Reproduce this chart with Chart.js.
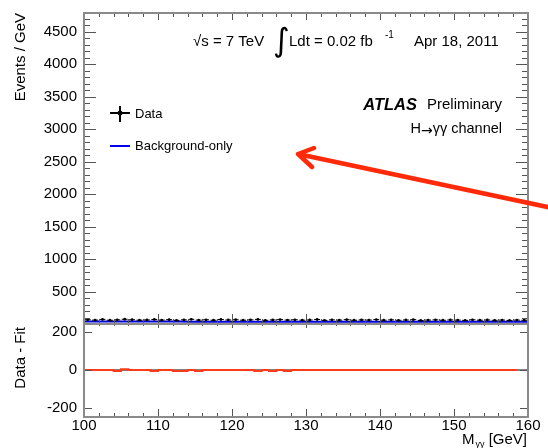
<!DOCTYPE html>
<html><head><meta charset="utf-8">
<script src="https://cdn.jsdelivr.net/npm/chart.js@4/dist/chart.umd.min.js"></script>
<style>
html,body{margin:0;padding:0;background:#fff;}
#wrap{position:relative;width:548px;height:448px;overflow:hidden;background:#fff;}
#c1{position:absolute;left:0;top:0;}
#c2{position:absolute;left:0;top:304px;}
</style></head><body>
<div id="wrap"><canvas id="c1" width="548" height="340" style="width:548px;height:340px"></canvas><canvas id="c2" width="548" height="144" style="width:548px;height:144px"></canvas></div>
<script>
// ---- data ----
const massBins = [100.5,101.5,102.5,103.5,104.5,105.5,106.5,107.5,108.5,109.5,
  110.5,111.5,112.5,113.5,114.5,115.5,116.5,117.5,118.5,119.5,
  120.5,121.5,122.5,123.5,124.5,125.5,126.5,127.5,128.5,129.5,
  130.5,131.5,132.5,133.5,134.5,135.5,136.5,137.5,138.5,139.5,
  140.5,141.5,142.5,143.5,144.5,145.5,146.5,147.5,148.5,149.5,
  150.5,151.5,152.5,153.5,154.5,155.5,156.5,157.5,158.5,159.5];
const dataEvents = [66,60,71,58,64,73,66,59,63,70,
  61,67,56,64,72,60,65,58,69,62,
  66,59,64,71,57,63,68,61,65,59,
  62,69,56,64,60,67,58,63,61,68,
  59,64,57,62,67,55,61,64,58,63,
  60,56,65,59,62,57,61,55,60,58];
const bkgMass = [100,105,110,115,120,125,130,135,140,145,150,155,160];
const bkgEvents = [38,37.4,36.9,36.4,35.9,35.5,35.1,34.7,34.3,34,33.7,33.4,33.1];
const resMass = [100,101,102,103,104,105,106,107,108,109,110,111,112,113,114,115,116,117,118,119,
  120,121,122,123,124,125,126,127,128,129,130,131,132,133,134,135,136,137,138,139,
  140,141,142,143,144,145,146,147,148,149,150,151,152,153,154,155,156,157,158,158.5];
const resValues = [0,0,0,0,0,-5,4,0,0,0,-5,0,0,-5,-5,0,-5,0,0,0,
  0,0,0,0,-5,0,-5,0,-5,0,0,0,0,0,0,0,0,0,0,0,
  0,0,0,0,0,0,0,0,0,0,0,0,0,0,0,0,0,0,0,0];
const upperYTicks = [500,1000,1500,2000,2500,3000,3500,4000,4500];
const lowerYTicks = [-200,0,200];
const xTickLabels = [100,110,120,130,140,150,160];

const FONT = '"Liberation Sans", Arial, sans-serif';
const FRAME = '#8a8a8a';
const TICKC = '#555';

function buildTicks(min, max, step){ const r=[]; for(let v=Math.ceil(min/step)*step; v<=max+1e-9; v+=step) r.push(v); return r; }

function drawFrameTicks(chart, spec){
  const {ctx, chartArea:a} = chart;
  const sx = chart.scales.x, sy = chart.scales.y;
  ctx.save();
  ctx.strokeStyle = TICKC; ctx.lineWidth = 1;
  ctx.beginPath();
  for (const t of spec.y){
    const p = Math.round(sy.getPixelForValue(t.v))+0.5;
    if (p < a.top || p > a.bottom) continue;
    ctx.moveTo(a.left, p); ctx.lineTo(a.left+t.len, p);
    ctx.moveTo(a.right, p); ctx.lineTo(a.right-t.len, p);
  }
  for (const t of spec.xb){
    const p = Math.round(sx.getPixelForValue(t.v))+0.5;
    ctx.moveTo(p, a.bottom); ctx.lineTo(p, a.bottom-t.len);
  }
  for (const t of spec.xt){
    const p = Math.round(sx.getPixelForValue(t.v))+0.5;
    ctx.moveTo(p, a.top); ctx.lineTo(p, a.top+t.len);
  }
  ctx.stroke();
  ctx.strokeStyle = FRAME; ctx.lineWidth = 2;
  ctx.strokeRect(a.left, a.top, a.right-a.left, a.bottom-a.top);
  ctx.restore();
}

function xSpec(majLen, minLen){
  return buildTicks(100,160,2).map(v => ({v, len: (v%10===0)? majLen : minLen}));
}

const upperPlugin = {
  id:'upper',
  afterDatasetsDraw(chart){
    const {ctx} = chart;
    const sx = chart.scales.x, sy = chart.scales.y;
    // error bars
    ctx.save(); ctx.strokeStyle='#000'; ctx.lineWidth=1; ctx.beginPath();
    dataEvents.forEach((n,i)=>{
      const x0 = sx.getPixelForValue(massBins[i]-0.4), x1 = sx.getPixelForValue(massBins[i]+0.4);
      const y = sy.getPixelForValue(n);
      ctx.moveTo(x0, y); ctx.lineTo(x1, y);
      const e = Math.sqrt(n);
      const xc = sx.getPixelForValue(massBins[i]);
      ctx.moveTo(xc, sy.getPixelForValue(n+e)); ctx.lineTo(xc, sy.getPixelForValue(n-e));
    });
    ctx.stroke(); ctx.restore();
    const yspec = buildTicks(0,4790,100).map(v=>({v, len:(v%500===0)?12:6}));
    drawFrameTicks(chart, {y:yspec, xb:xSpec(10,5), xt:xSpec(7,4)});
    ctx.save();
    ctx.fillStyle='#000';
    // y tick labels
    ctx.textBaseline='middle'; ctx.textAlign='right'; ctx.font='15px '+FONT;
    upperYTicks.forEach(v => ctx.fillText(String(v), 77, sy.getPixelForValue(v)));
    // texts
    ctx.textAlign='left';
    ctx.fillText('\u221As = 7 TeV', 193, 42);
    ctx.font = '32px "DejaVu Sans"';
    ctx.fillText('\u222B', 273, 43);
    ctx.font = '15px '+FONT;
    ctx.fillText('Ldt = 0.02 fb', 289, 42);
    ctx.font = '10px '+FONT;
    ctx.fillText('-1', 385, 35);
    ctx.font = '15px '+FONT;
    ctx.fillText('Apr 18, 2011', 414, 42);
    // ATLAS Preliminary
    ctx.textAlign='right';
    ctx.fillText('Preliminary', 502, 105);
    const wp = ctx.measureText('Preliminary').width;
    ctx.font = 'italic bold 16.5px '+FONT;
    ctx.fillText('ATLAS', 502 - wp - 10, 105);
    // H -> gamma gamma channel
    let hx = 502;
    ctx.font = '14.5px '+FONT;
    ctx.fillText('\u03B3\u03B3 channel', hx, 129);
    hx -= ctx.measureText('\u03B3\u03B3 channel').width;
    ctx.font = '14px "DejaVu Sans"';
    ctx.fillText('\u2192', hx, 131);
    hx -= ctx.measureText('\u2192').width;
    ctx.font = '14.5px '+FONT;
    ctx.fillText('H', hx, 129);
    // legend
    ctx.textAlign='left';
    ctx.font = '13px '+FONT;
    ctx.fillText('Data', 135, 114);
    ctx.fillText('Background-only', 135, 146);
    ctx.strokeStyle='#000'; ctx.lineWidth=2;
    ctx.beginPath(); ctx.moveTo(110,113); ctx.lineTo(130,113); ctx.moveTo(120,106); ctx.lineTo(120,122); ctx.stroke();
    ctx.beginPath(); ctx.arc(120,113,2.5,0,Math.PI*2); ctx.fillStyle='#000'; ctx.fill();
    ctx.strokeStyle='#0000ee'; ctx.lineWidth=2;
    ctx.beginPath(); ctx.moveTo(110,146); ctx.lineTo(130,146); ctx.stroke();
    // y title
    ctx.fillStyle='#000';
    ctx.translate(21,13); ctx.rotate(-Math.PI/2);
    ctx.textAlign='right'; ctx.font='15px '+FONT;
    ctx.fillText('Events / GeV', 0, 0);
    ctx.restore();
  },
  afterDraw(chart){
    const ctx = chart.ctx;
    ctx.save();
    ctx.strokeStyle='#ff2a0a'; ctx.lineWidth=4.5; ctx.lineCap='round'; ctx.lineJoin='round';
    ctx.beginPath();
    ctx.moveTo(552, 208); ctx.lineTo(298, 154);
    ctx.moveTo(314, 148); ctx.lineTo(298, 154); ctx.lineTo(312, 167);
    ctx.stroke();
    ctx.restore();
  }
};

const lowerPlugin = {
  id:'lower',
  afterDatasetsDraw(chart){
    const {ctx} = chart;
    drawFrameTicks(chart, {y:lowerYTicks.map(v=>({v,len:8})), xb:xSpec(8,4), xt:xSpec(4,2)});
    ctx.save();
    ctx.fillStyle='#000'; ctx.textBaseline='middle';
    ctx.translate(21, 23); ctx.rotate(-Math.PI/2);
    ctx.textAlign='right'; ctx.font='15px '+FONT;
    ctx.fillText('Data - Fit', 0, 0);
    ctx.restore();
    // x title
    ctx.save();
    ctx.fillStyle='#000'; ctx.textBaseline='alphabetic'; ctx.textAlign='right';
    ctx.font='15px '+FONT;
    let x = 527;
    ctx.fillText(' [GeV]', x, 140);
    x -= ctx.measureText(' [GeV]').width;
    ctx.font='9px '+FONT;
    ctx.fillText('\u03B3\u03B3', x, 143);
    x -= ctx.measureText('\u03B3\u03B3').width + 1;
    ctx.font='15px '+FONT;
    ctx.fillText('M', x, 140);
    ctx.restore();
  }
};

const tickFont = {family: FONT, size: 15};

new Chart(document.getElementById('c1'), {
  type:'line',
  data:{datasets:[
    {label:'Background-only', data: bkgMass.map((m,i)=>({x:m,y:bkgEvents[i]})), borderColor:'#0000dd', borderWidth:2, pointRadius:0, tension:0.4, fill:false, order:2},
    {label:'Data', data: massBins.map((m,i)=>({x:m,y:dataEvents[i]})), showLine:false, pointRadius:1.4, pointBackgroundColor:'#000', pointBorderWidth:0, borderColor:'#000', order:1}
  ]},
  options:{
    responsive:false, animation:false, events:[], devicePixelRatio:1,
    layout:{padding:{left:0,right:20,top:13,bottom:16}},
    plugins:{legend:{display:false}, tooltip:{enabled:false}},
    scales:{
      x:{type:'linear', min:100, max:160, display:false},
      y:{type:'linear', min:0, max:4790,
        grid:{display:false, drawTicks:false}, border:{display:false},
        afterFit(s){ s.width = 84; },
        ticks:{display:false, stepSize:500}
      }
    }
  },
  plugins:[upperPlugin]
});

new Chart(document.getElementById('c2'), {
  type:'line',
  data:{datasets:[
    {label:'zero', data:[{x:100,y:0},{x:160,y:0}], borderColor:'#000', borderWidth:1, pointRadius:0, order:2},
    {label:'Data - Fit', data: resMass.map((m,i)=>({x:m,y:resValues[i]})), stepped:'after', borderColor:'#ff3b1a', borderWidth:2, pointRadius:0, order:1}
  ]},
  options:{
    responsive:false, animation:false, events:[], devicePixelRatio:1,
    layout:{padding:{left:0,right:20,top:20,bottom:0}},
    plugins:{legend:{display:false}, tooltip:{enabled:false}},
    scales:{
      x:{type:'linear', min:100, max:160,
        grid:{display:false, drawTicks:false}, border:{display:false},
        afterFit(s){ s.height = 31; },
        ticks:{stepSize:10, padding:0, color:'#000', font:tickFont, maxRotation:0,
          callback:(v)=> xTickLabels.includes(v) ? String(v) : null}
      },
      y:{type:'linear', min:-247, max:242,
        grid:{display:false, drawTicks:false}, border:{display:false},
        afterFit(s){ s.width = 84; },
        ticks:{stepSize:200, includeBounds:false, padding:7, color:'#000', font:tickFont,
          callback:(v)=> lowerYTicks.includes(v) ? String(v) : null}
      }
    }
  },
  plugins:[lowerPlugin]
});
</script>
</body></html>
